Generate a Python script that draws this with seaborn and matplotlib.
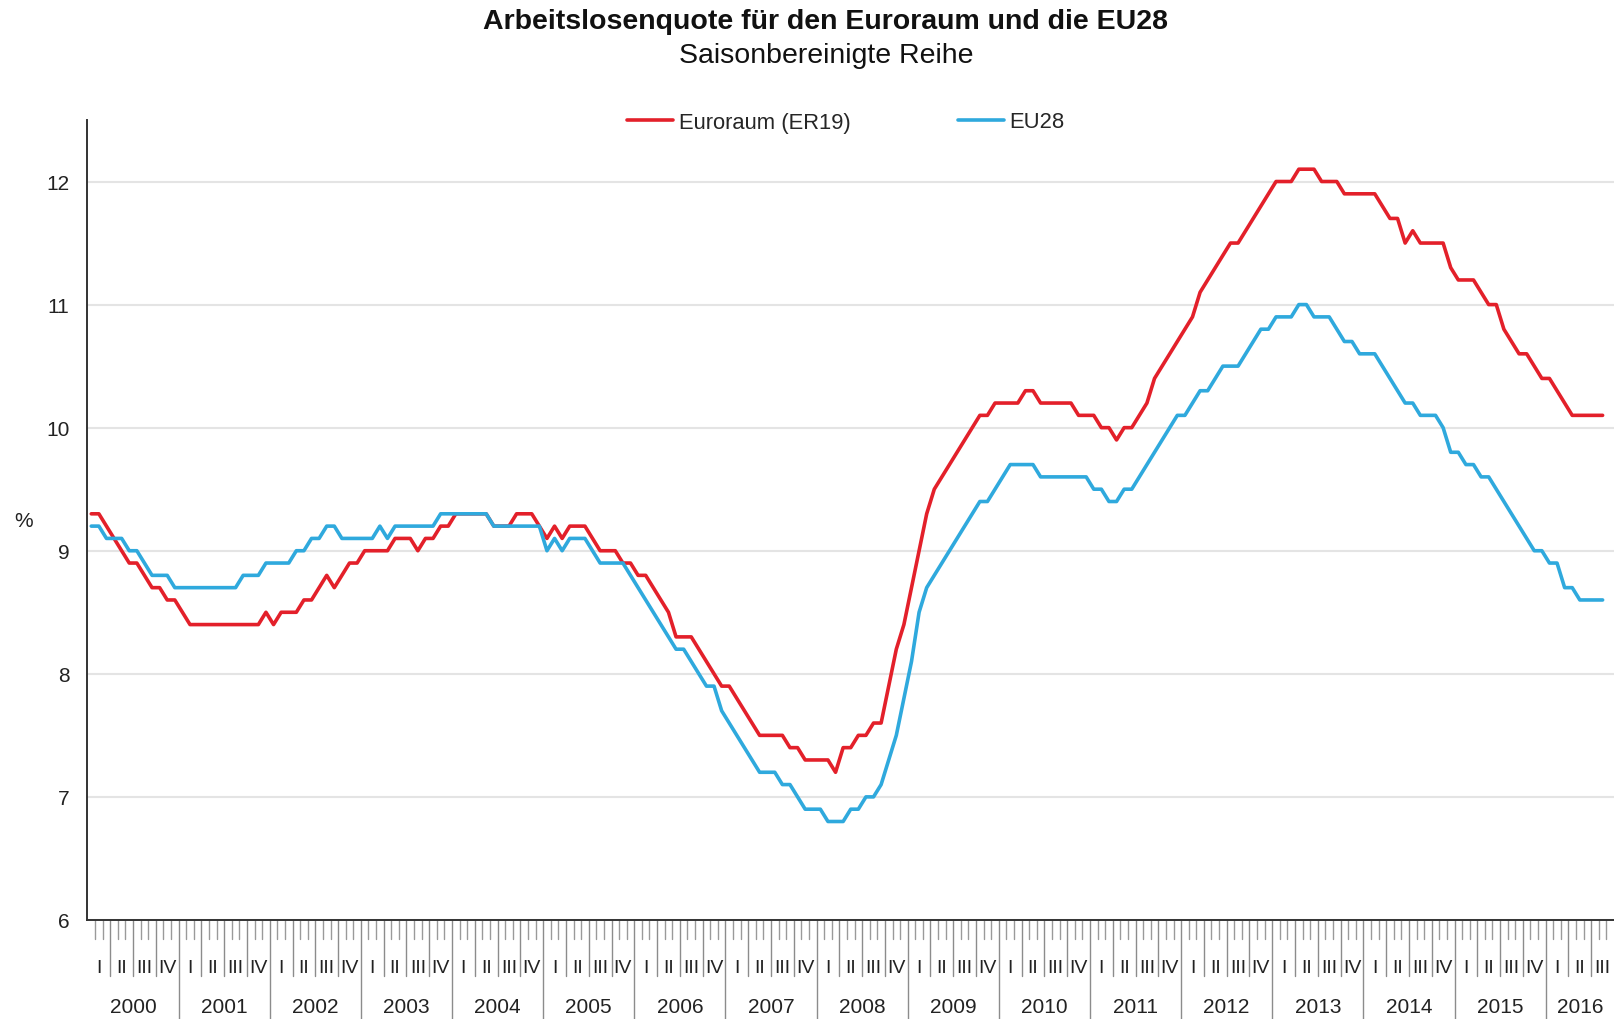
import numpy as np
import pandas as pd
import matplotlib
matplotlib.use("Agg")
import matplotlib.pyplot as plt
import seaborn as sns

# ---------------- data (monthly, Jan 2000 - Aug 2016) ----------------
title = "Arbeitslosenquote für den Euroraum und die EU28"
subtitle = "Saisonbereinigte Reihe"
series_names = ["Euroraum (ER19)", "EU28"]
years = list(range(2000, 2017))
quarter_labels = ["I", "II", "III", "IV"]
y_ticks = [6, 7, 8, 9, 10, 11, 12]

euroraum = [
    9.3, 9.3, 9.2, 9.1, 9.0, 8.9, 8.9, 8.8, 8.7, 8.7, 8.6, 8.6,        # 2000
    8.5, 8.4, 8.4, 8.4, 8.4, 8.4, 8.4, 8.4, 8.4, 8.4, 8.4, 8.5,        # 2001
    8.4, 8.5, 8.5, 8.5, 8.6, 8.6, 8.7, 8.8, 8.7, 8.8, 8.9, 8.9,        # 2002
    9.0, 9.0, 9.0, 9.0, 9.1, 9.1, 9.1, 9.0, 9.1, 9.1, 9.2, 9.2,        # 2003
    9.3, 9.3, 9.3, 9.3, 9.3, 9.2, 9.2, 9.2, 9.3, 9.3, 9.3, 9.2,        # 2004
    9.1, 9.2, 9.1, 9.2, 9.2, 9.2, 9.1, 9.0, 9.0, 9.0, 8.9, 8.9,        # 2005
    8.8, 8.8, 8.7, 8.6, 8.5, 8.3, 8.3, 8.3, 8.2, 8.1, 8.0, 7.9,        # 2006
    7.9, 7.8, 7.7, 7.6, 7.5, 7.5, 7.5, 7.5, 7.4, 7.4, 7.3, 7.3,        # 2007
    7.3, 7.3, 7.2, 7.4, 7.4, 7.5, 7.5, 7.6, 7.6, 7.9, 8.2, 8.4,        # 2008
    8.7, 9.0, 9.3, 9.5, 9.6, 9.7, 9.8, 9.9, 10.0, 10.1, 10.1, 10.2,    # 2009
    10.2, 10.2, 10.2, 10.3, 10.3, 10.2, 10.2, 10.2, 10.2, 10.2, 10.1, 10.1,  # 2010
    10.1, 10.0, 10.0, 9.9, 10.0, 10.0, 10.1, 10.2, 10.4, 10.5, 10.6, 10.7,   # 2011
    10.8, 10.9, 11.1, 11.2, 11.3, 11.4, 11.5, 11.5, 11.6, 11.7, 11.8, 11.9,  # 2012
    12.0, 12.0, 12.0, 12.1, 12.1, 12.1, 12.0, 12.0, 12.0, 11.9, 11.9, 11.9,  # 2013
    11.9, 11.9, 11.8, 11.7, 11.7, 11.5, 11.6, 11.5, 11.5, 11.5, 11.5, 11.3,  # 2014
    11.2, 11.2, 11.2, 11.1, 11.0, 11.0, 10.8, 10.7, 10.6, 10.6, 10.5, 10.4,  # 2015
    10.4, 10.3, 10.2, 10.1, 10.1, 10.1, 10.1, 10.1,                          # 2016
]

eu28 = [
    9.2, 9.2, 9.1, 9.1, 9.1, 9.0, 9.0, 8.9, 8.8, 8.8, 8.8, 8.7,        # 2000
    8.7, 8.7, 8.7, 8.7, 8.7, 8.7, 8.7, 8.7, 8.8, 8.8, 8.8, 8.9,        # 2001
    8.9, 8.9, 8.9, 9.0, 9.0, 9.1, 9.1, 9.2, 9.2, 9.1, 9.1, 9.1,        # 2002
    9.1, 9.1, 9.2, 9.1, 9.2, 9.2, 9.2, 9.2, 9.2, 9.2, 9.3, 9.3,        # 2003
    9.3, 9.3, 9.3, 9.3, 9.3, 9.2, 9.2, 9.2, 9.2, 9.2, 9.2, 9.2,        # 2004
    9.0, 9.1, 9.0, 9.1, 9.1, 9.1, 9.0, 8.9, 8.9, 8.9, 8.9, 8.8,        # 2005
    8.7, 8.6, 8.5, 8.4, 8.3, 8.2, 8.2, 8.1, 8.0, 7.9, 7.9, 7.7,        # 2006
    7.6, 7.5, 7.4, 7.3, 7.2, 7.2, 7.2, 7.1, 7.1, 7.0, 6.9, 6.9,        # 2007
    6.9, 6.8, 6.8, 6.8, 6.9, 6.9, 7.0, 7.0, 7.1, 7.3, 7.5, 7.8,        # 2008
    8.1, 8.5, 8.7, 8.8, 8.9, 9.0, 9.1, 9.2, 9.3, 9.4, 9.4, 9.5,        # 2009
    9.6, 9.7, 9.7, 9.7, 9.7, 9.6, 9.6, 9.6, 9.6, 9.6, 9.6, 9.6,        # 2010
    9.5, 9.5, 9.4, 9.4, 9.5, 9.5, 9.6, 9.7, 9.8, 9.9, 10.0, 10.1,      # 2011
    10.1, 10.2, 10.3, 10.3, 10.4, 10.5, 10.5, 10.5, 10.6, 10.7, 10.8, 10.8,  # 2012
    10.9, 10.9, 10.9, 11.0, 11.0, 10.9, 10.9, 10.9, 10.8, 10.7, 10.7, 10.6,  # 2013
    10.6, 10.6, 10.5, 10.4, 10.3, 10.2, 10.2, 10.1, 10.1, 10.1, 10.0, 9.8,   # 2014
    9.8, 9.7, 9.7, 9.6, 9.6, 9.5, 9.4, 9.3, 9.2, 9.1, 9.0, 9.0,        # 2015
    8.9, 8.9, 8.7, 8.7, 8.6, 8.6, 8.6, 8.6,                            # 2016
]

# ---------------- styling ----------------
RED = "#e3202a"
BLUE = "#2fa9dd"
sns.set_style("white")
plt.rcParams["font.family"] = ["Liberation Sans", "DejaVu Sans"]

n = len(euroraum)
month_pos = np.arange(n) + 0.5          # each value at the middle of its month
df = pd.DataFrame({
    "x": np.concatenate([month_pos, month_pos]),
    "Quote": euroraum + eu28,
    "Reihe": [series_names[0]] * n + [series_names[1]] * n,
})

fig = plt.figure(figsize=(16.14, 10.2), dpi=100)
ax = fig.add_axes([0.0542, 0.0971, 0.9458, 0.7843])

sns.lineplot(data=df, x="x", y="Quote", hue="Reihe",
             palette={series_names[0]: RED, series_names[1]: BLUE},
             linewidth=2.6, ax=ax, legend=True)

x_max = 201  # axis ends with Sep 2016
ax.set_xlim(0, x_max)
ax.set_ylim(6, 12.5)
ax.set_yticks(y_ticks)
ax.set_yticklabels([str(t) for t in y_ticks])
ax.set_xticks([])
ax.set_xlabel("")
ax.set_ylabel("")
ax.grid(axis="y", color="#e4e4e4", linewidth=1.5)
ax.set_axisbelow(True)
ax.tick_params(axis="y", length=5, width=1, color="#555555",
               labelsize=15, pad=8, labelcolor="#222222")
for side in ["top", "right"]:
    ax.spines[side].set_visible(False)
ax.spines["left"].set_color("#333333")
ax.spines["left"].set_linewidth(1.4)
ax.spines["bottom"].set_color("#333333")
ax.spines["bottom"].set_linewidth(1.4)

# legend on top
handles, labels = ax.get_legend_handles_labels()
ax.get_legend().remove()
leg = fig.legend(handles, labels, loc="center", ncol=2, frameon=False,
                 bbox_to_anchor=(846 / 1614, 1 - 123 / 1020),
                 fontsize=15.8, handlelength=2.1, handletextpad=0.25,
                 columnspacing=4.9)
for h in leg.get_lines():
    h.set_linewidth(2.6)

# month / quarter / year scale below the axis
tr = ax.get_xaxis_transform()
for b in range(1, x_max):
    if b % 12 == 0:
        ax.plot([b, b], [0, -0.124], transform=tr, clip_on=False,
                color="#8c8c8c", linewidth=1.0)
    elif b % 3 == 0:
        ax.plot([b, b], [0, -0.07], transform=tr, clip_on=False,
                color="#8c8c8c", linewidth=1.0)
    else:
        ax.plot([b, b], [0, -0.024], transform=tr, clip_on=False,
                color="#9a9a9a", linewidth=1.0)

for yi, yr in enumerate(years):
    start = 12 * yi
    for qi, ql in enumerate(quarter_labels):
        c = start + 3 * qi + 1.5
        if c < x_max:
            ax.text(c, -0.059, ql, transform=tr, ha="center", va="center",
                    fontsize=14, color="#222222")
    end = min(start + 12, x_max)
    ax.text((start + end) / 2, -0.108, str(yr), transform=tr,
            ha="center", va="center", fontsize=15, color="#222222")

# titles and unit
fig.text(826 / 1614, 1 - 22 / 1020, title, ha="center", va="center",
         fontsize=20.5, fontweight="bold", color="#111111")
fig.text(826 / 1614, 1 - 56 / 1020, subtitle, ha="center", va="center",
         fontsize=20.5, color="#111111")
fig.text(24 / 1614, 1 - 522 / 1020, "%", ha="center", va="center",
         fontsize=15, color="#222222")

fig.savefig("out.png", dpi=100)
